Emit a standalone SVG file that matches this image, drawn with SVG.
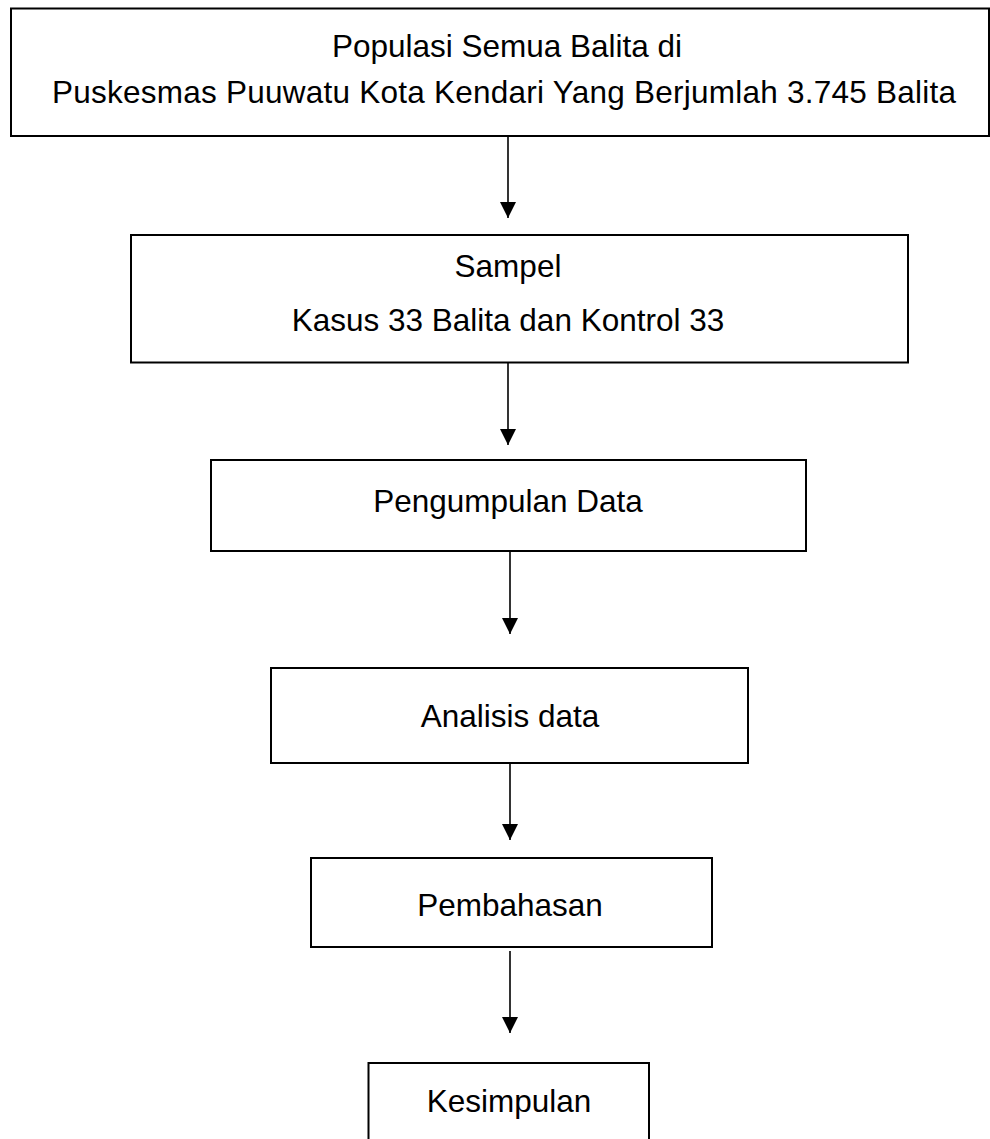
<svg xmlns="http://www.w3.org/2000/svg" width="990" height="1139" viewBox="0 0 990 1139">
<style>
.box{fill:#fff;stroke:#000;stroke-width:2}
.t{font-family:"Liberation Sans",Arial,sans-serif;font-size:31.5px;fill:#000;text-anchor:middle}
.c{stroke:#000;stroke-width:1.6;fill:none}
</style>
<defs>
<marker id="ah" markerUnits="userSpaceOnUse" markerWidth="16" markerHeight="16" refX="16" refY="8" orient="auto">
<path d="M0,0 L16,8 L0,16 Z" fill="#000"/>
</marker>
</defs>
<rect width="990" height="1139" fill="#fff"/>
<g id="connectors">
<line class="c" x1="508" y1="136" x2="508" y2="218" marker-end="url(#ah)"/>
<line class="c" x1="508" y1="363" x2="508" y2="445" marker-end="url(#ah)"/>
<line class="c" x1="510" y1="551" x2="510" y2="634" marker-end="url(#ah)"/>
<line class="c" x1="510" y1="763" x2="510" y2="840" marker-end="url(#ah)"/>
<line class="c" x1="510" y1="951" x2="510" y2="1033" marker-end="url(#ah)"/>
</g>
<g id="populasi">
<rect class="box" x="11" y="8.5" width="978" height="127.5"/>
<text class="t" x="507" y="57">Populasi Semua Balita di</text>
<text class="t" x="504" y="103" textLength="904" lengthAdjust="spacing">Puskesmas Puuwatu Kota Kendari Yang Berjumlah 3.745 Balita</text>
</g>
<g id="sampel">
<rect class="box" x="131" y="235" width="777" height="127.5"/>
<text class="t" x="508" y="277">Sampel</text>
<text class="t" x="508" y="331">Kasus 33 Balita dan Kontrol 33</text>
</g>
<g id="pengumpulan">
<rect class="box" x="211" y="460" width="595" height="91"/>
<text class="t" x="508" y="512">Pengumpulan Data</text>
</g>
<g id="analisis">
<rect class="box" x="271" y="668" width="477" height="95"/>
<text class="t" x="510" y="727">Analisis data</text>
</g>
<g id="pembahasan">
<rect class="box" x="311" y="858" width="401" height="89"/>
<text class="t" x="510" y="916">Pembahasan</text>
</g>
<g id="kesimpulan">
<path class="box" d="M368.5,1145 V1063 H649 V1145"/>
<text class="t" x="509" y="1112">Kesimpulan</text>
</g>
</svg>
